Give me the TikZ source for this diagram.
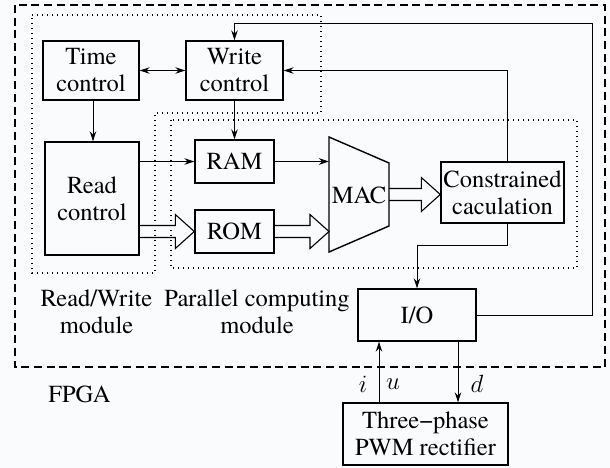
\documentclass[tikz,border=0pt]{standalone}
\usepackage{fontspec}
\setmainfont{TeX Gyre Termes}
\newfontfamily\tmsfont{TeX Gyre Termes}
\usetikzlibrary{arrows.meta,calc}
\definecolor{bgc}{RGB}{250,251,253}
\newcommand{\harrow}[2]{%
 \draw[hollow] let \p1=(#1), \p2=(#2) in
 (\x1,\y1+6pt) -- (\x2-19pt,\y1+6pt) -- (\x2-19pt,\y1+17pt) -- (\x2,\y1) -- (\x2-19pt,\y1-17pt) -- (\x2-19pt,\y1-6pt) -- (\x1,\y1-6pt);}
\begin{document}
\begin{tikzpicture}[x=1pt,y=-1pt,
 box/.style={draw,line width=1.4pt,align=center,inner sep=0pt,font=\tmsfont\fontsize{24.5}{27}\selectfont},
 lbl/.style={align=center,inner sep=0pt,font=\tmsfont\fontsize{24.5}{27}\selectfont},
 conn/.style={line width=0.9pt,-{Stealth[length=10pt,width=6.5pt]}},
 dconn/.style={line width=0.9pt,{Stealth[length=10pt,width=6.5pt]}-{Stealth[length=10pt,width=6.5pt]}},
 wire/.style={line width=0.9pt},
 hollow/.style={line width=1.1pt,line join=miter},
 dotbox/.style={line width=1.4pt,dash pattern=on 1.4pt off 3.6pt},
 dashbox/.style={line width=1.4pt,dash pattern=on 8pt off 4.7pt}]
\fill[bgc] (0,0) rectangle (610,468);
\useasboundingbox (0,0) rectangle (610,468);

% module outlines
\draw[dashbox] (15,5) rectangle (605,367);
\draw[dotbox] (32,15) -- (321,15) -- (321,113) -- (155,113) -- (155,273) -- (32,273) -- cycle;
\draw[dotbox] (171,120) rectangle (577,268);

% blocks
\node[box,minimum width=96pt,minimum height=59pt] (tc) at (91,70.5) {Time\\control};
\node[box,minimum width=97pt,minimum height=59pt] (wc) at (234.5,70.5) {Write\\control};
\node[box,minimum width=94pt,minimum height=113pt] (rc) at (92,198.5) {Read\\control};
\node[box,minimum width=79pt,minimum height=43pt] (ram) at (234.5,161.5) {RAM};
\node[box,minimum width=79pt,minimum height=43pt] (rom) at (234.5,231.5) {ROM};
\node[box,minimum width=123pt,minimum height=61pt] (cc) at (502.5,192.5) {Constrained\\caculation};
\node[box,minimum width=118pt,minimum height=52pt] (io) at (417,315) {I/O};
\node[box,minimum width=165pt,minimum height=62pt] (tp) at (425.5,434) {Three−phase\\PWM rectifier};

% MAC trapezoid
\draw[line width=1.4pt,line join=miter] (329,137) -- (389,163) -- (389,226) -- (329,252) -- cycle;
\node[lbl] (mac) at (359,195) {MAC};
\coordinate (macL) at (329,194.5);
\coordinate (macR) at (389,194.5);

% labels
\node[lbl] (rwl) at (96.5,311.5) {Read/Write\\module};
\node[lbl] (pcl) at (257,311.5) {Parallel computing\\module};
\node[lbl] (fpga) at (79.5,394) {FPGA};

% connectors
\coordinate (tcx) at (93,0);
\draw[dconn] (tc.east) -- (wc.west);
\draw[conn] (tc.south -| tcx) -- (rc.north -| tcx);
\draw[conn] (wc.south) -- (ram.north);
\draw[conn] (rc.east |- ram.west) -- (ram.west);
\draw[conn] (ram.east) -- (ram.east -| macL);
\harrow{rc.east |- rom.west}{rom.west}
\harrow{rom.east}{rom.east -| macL}
\harrow{macR}{macR -| cc.west}

\coordinate (ccx) at (507,245);
\draw[conn] (cc.north -| ccx) |- (wc.east);
\draw[conn] (cc.south -| ccx) -- (ccx) -| (io.north);

\coordinate (fb) at (592,23);
\draw[conn] (io.east) -| (fb) -- (fb -| wc.north) -- (wc.north);

\coordinate (iu) at (379,0);
\coordinate (dd) at (458,0);
\draw[conn] (tp.north -| iu) -- (io.south -| iu);
\draw[conn] (io.south -| dd) -- (tp.north -| dd);
\node[lbl] (li) at (363,384) {$i$};
\node[lbl] (lu) at (393,384) {$u$};
\node[lbl] (ld) at (477,384) {$d$};
\end{tikzpicture}
\end{document}
